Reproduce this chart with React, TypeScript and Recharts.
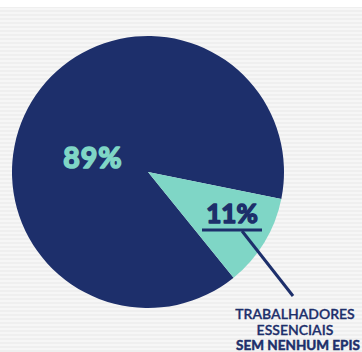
import React from "react";
import { PieChart, Pie, Cell } from "recharts";

const categories = ["Com EPIs", "Sem nenhum EPIs"];
const values = [89, 11];
const valueLabels = ["89%", "11%"];
const calloutLines = ["TRABALHADORES", "ESSENCIAIS", "SEM NENHUM EPIS"];

const NAVY = "#1d2f6b";
const TEAL = "#7fd6c6";

const data = categories.map((name, i) => ({ name, value: values[i] }));

const Overlay = () => (
  <svg
    width={362}
    height={352}
    style={{ position: "absolute", left: 0, top: 0, pointerEvents: "none" }}
  >
    <g fontFamily="Lato, 'Open Sans', sans-serif">
      <text
        x={93}
        y={168}
        textAnchor="middle"
        fill={TEAL}
        stroke={TEAL}
        strokeWidth={1.7}
        strokeLinejoin="round"
        fontSize={28.5}
        fontWeight={700}
        letterSpacing={1}
      >
        {valueLabels[0]}
      </text>
      <text
        x={232}
        y={223}
        textAnchor="middle"
        fill={NAVY}
        stroke={NAVY}
        strokeWidth={1.6}
        strokeLinejoin="round"
        fontSize={26}
        fontWeight={700}
      >
        {valueLabels[1]}
      </text>
      <line x1={202} y1={230} x2={262} y2={230} stroke={NAVY} strokeWidth={3} />
      <line x1={242} y1={231} x2={293} y2={296} stroke={NAVY} strokeWidth={3} />
      <text x={295} y={319} textAnchor="middle" fill={NAVY} stroke={NAVY} strokeWidth={0.3} fontSize={14} fontWeight={600}>
        {calloutLines[0]}
      </text>
      <text x={295} y={335} textAnchor="middle" fill={NAVY} stroke={NAVY} strokeWidth={0.3} fontSize={14} fontWeight={600}>
        {calloutLines[1]}
      </text>
      <text
        x={298}
        y={350}
        textAnchor="middle"
        fill={NAVY}
        stroke={NAVY}
        strokeWidth={0.5}
        fontSize={13.5}
        fontWeight={700}
      >
        {calloutLines[2]}
      </text>
    </g>
  </svg>
);

export default function App() {
  return (
    <div
      style={{
        position: "absolute",
        left: 0,
        top: 0,
        width: 362,
        height: 352,
        background:
          "linear-gradient(#ffffff 0, #ffffff 7px, transparent 7px), repeating-linear-gradient(0deg, #efefef 0px, #efefef 2px, #f6f6f6 2px, #f6f6f6 4px)",
      }}
    >
      <PieChart width={362} height={352} margin={{ top: 0, right: 0, bottom: 0, left: 0 }}>
        <Pie
          data={data}
          dataKey="value"
          nameKey="name"
          cx={148}
          cy={172}
          outerRadius={136}
          startAngle={-11.4}
          endAngle={348.6}
          stroke="none"
          isAnimationActive={false}
        >
          <Cell fill={NAVY} />
          <Cell fill={TEAL} />
        </Pie>
      </PieChart>
      <Overlay />
    </div>
  );
}
